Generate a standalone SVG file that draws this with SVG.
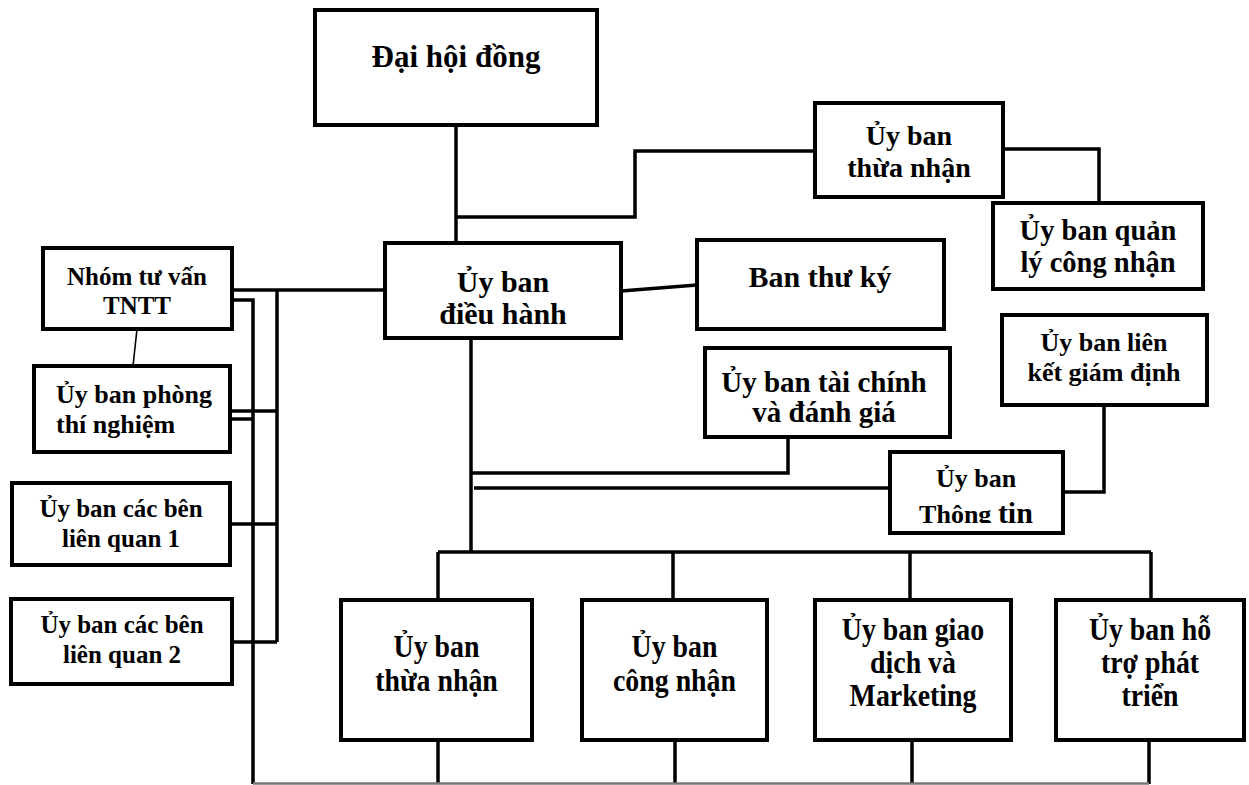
<svg xmlns="http://www.w3.org/2000/svg" width="1249" height="785" viewBox="0 0 1249 785">
  <style>
    .box { fill: #fff; stroke: #000; stroke-width: 4; }
    .ln { fill: none; stroke: #000; stroke-width: 3.5; }
    .thin { fill: none; stroke: #000; stroke-width: 1.6; }
    text { font-family: "Liberation Serif", "Times New Roman", serif; font-weight: bold; fill: #000; text-anchor: middle; }
    .f31 { font-size: 31px; }
    .f30 { font-size: 30px; }
    .f29 { font-size: 29px; }
    .f28 { font-size: 28px; }
    .f285 { font-size: 28.5px; }
    .f26 { font-size: 26px; }
    .f25 { font-size: 25px; }
    /* tall, narrow lettering used in the four lower committees */
    .cond { font-size: 32px; }
  </style>
  <defs>
    <clipPath id="clipInfo">
      <rect x="890" y="452" width="173" height="71"/>
    </clipPath>
  </defs>
  <rect width="1249" height="785" fill="#fff"/>

  <!-- connectors -->
  <g id="connectors">
    <!-- general assembly to executive committee, branch to top recognition committee -->
    <path class="ln" d="M456 125 V243"/>
    <path class="ln" d="M456 217 H635 V151 H815"/>
    <path class="ln" d="M1003 149 H1099 V203"/>
    <!-- executive committee to secretariat -->
    <path class="ln" d="M621 291 L697 285"/>
    <!-- left-hand bundle -->
    <path class="ln" d="M385 290 H232"/>
    <path class="ln" d="M277 290 V642"/>
    <path class="ln" d="M230 411 H277"/>
    <path class="ln" d="M230 524 H277"/>
    <path class="ln" d="M232 642 H277"/>
    <path class="ln" d="M232 300 H253 V784"/>
    <path class="ln" d="M230 419 H253"/>
    <path class="thin" d="M137 329 L133 366"/>
    <!-- main trunk -->
    <path class="ln" d="M471 338 V552"/>
    <path class="ln" d="M788 437 V473 H471"/>
    <path class="ln" d="M474 488 H890"/>
    <path class="ln" d="M1104 405 V492 H1063"/>
    <!-- bus to bottom committees -->
    <path class="ln" d="M438 552 H1151"/>
    <path class="ln" d="M438 552 V600 M673 552 V600 M910 552 V600 M1151 552 V600"/>
    <path class="ln" d="M438 740 V784 M675 740 V784 M912 740 V784 M1149 740 V784"/>
    <path d="M253 783.5 H1149" fill="none" stroke="#777" stroke-width="2.5"/>
  </g>

  <g id="n-dai-hoi-dong">
    <rect class="box" x="315" y="10" width="282" height="115"/>
    <text class="f31" x="456" y="67">Đại hội đồng</text>
  </g>

  <g id="n-uy-ban-thua-nhan-top">
    <rect class="box" x="815" y="103" width="188" height="94"/>
    <text class="f28" x="909" y="145">Ủy ban</text>
    <text class="f28" x="909" y="177">thừa nhận</text>
  </g>

  <g id="n-quan-ly-cong-nhan">
    <rect class="box" x="993" y="203" width="210" height="86"/>
    <text class="f285" x="1098" y="240">Ủy ban quản</text>
    <text class="f285" x="1098" y="272">lý công nhận</text>
  </g>

  <g id="n-nhom-tu-van">
    <rect class="box" x="43" y="248" width="189" height="81"/>
    <text class="f25" x="137" y="285">Nhóm tư vấn</text>
    <text class="f25" x="137" y="314">TNTT</text>
  </g>

  <g id="n-dieu-hanh">
    <rect class="box" x="385" y="243" width="236" height="95"/>
    <text class="f30" x="503" y="292">Ủy ban</text>
    <text class="f30" x="503" y="324">điều hành</text>
  </g>

  <g id="n-ban-thu-ky">
    <rect class="box" x="697" y="240" width="247" height="89"/>
    <text class="f30" x="820" y="287">Ban thư ký</text>
  </g>

  <g id="n-phong-thi-nghiem">
    <rect class="box" x="34" y="366" width="196" height="86"/>
    <text class="f26" x="56" y="403" style="text-anchor:start">Ủy ban phòng</text>
    <text class="f26" x="56" y="433" style="text-anchor:start">thí nghiệm</text>
  </g>

  <g id="n-tai-chinh">
    <rect class="box" x="705" y="348" width="245" height="89"/>
    <text class="f29" x="824" y="392">Ủy ban tài chính</text>
    <text class="f29" x="824" y="422">và đánh giá</text>
  </g>

  <g id="n-lien-ket">
    <rect class="box" x="1002" y="315" width="205" height="90"/>
    <text class="f26" x="1104" y="351">Ủy ban liên</text>
    <text class="f26" x="1104" y="381">kết giám định</text>
  </g>

  <g id="n-cac-ben-1">
    <rect class="box" x="12" y="483" width="218" height="82"/>
    <text class="f25" x="121" y="517">Ủy ban các bên</text>
    <text class="f25" x="121" y="547">liên quan 1</text>
  </g>

  <g id="n-thong-tin">
    <rect class="box" x="890" y="452" width="173" height="81"/>
    <g clip-path="url(#clipInfo)">
      <text class="f26" x="976" y="487">Ủy ban</text>
      <text class="f26" x="976" y="523">Thông <tspan style="font-size:30px">tin</tspan></text>
    </g>
  </g>

  <g id="n-cac-ben-2">
    <rect class="box" x="11" y="599" width="221" height="85"/>
    <text class="f25" x="122" y="633">Ủy ban các bên</text>
    <text class="f25" x="122" y="663">liên quan 2</text>
  </g>

  <g id="n-thua-nhan">
    <rect class="box" x="341" y="600" width="191" height="140"/>
    <text class="cond" transform="translate(436.5 657) scale(0.87 1)">Ủy ban</text>
    <text class="cond" transform="translate(436.5 691) scale(0.87 1)">thừa nhận</text>
  </g>

  <g id="n-cong-nhan">
    <rect class="box" x="582" y="600" width="185" height="140"/>
    <text class="cond" transform="translate(674.5 657) scale(0.87 1)">Ủy ban</text>
    <text class="cond" transform="translate(674.5 691) scale(0.87 1)">công nhận</text>
  </g>

  <g id="n-giao-dich">
    <rect class="box" x="815" y="600" width="196" height="140"/>
    <text class="cond" transform="translate(913 640) scale(0.87 1)">Ủy ban giao</text>
    <text class="cond" transform="translate(913 673) scale(0.87 1)">dịch và</text>
    <text class="cond" transform="translate(913 706) scale(0.87 1)">Marketing</text>
  </g>

  <g id="n-ho-tro">
    <rect class="box" x="1056" y="600" width="188" height="140"/>
    <text class="cond" transform="translate(1150 640) scale(0.87 1)">Ủy ban hỗ</text>
    <text class="cond" transform="translate(1150 673) scale(0.87 1)">trợ phát</text>
    <text class="cond" transform="translate(1150 706) scale(0.87 1)">triển</text>
  </g>
</svg>
